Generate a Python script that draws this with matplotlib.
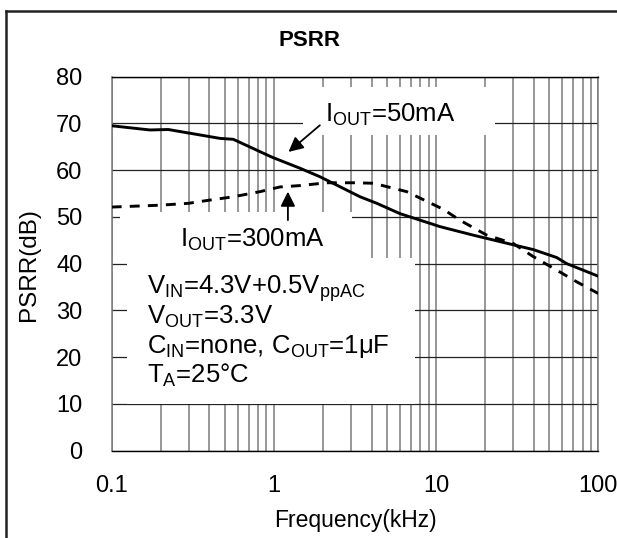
import matplotlib
matplotlib.use("Agg")
import matplotlib.pyplot as plt
from matplotlib.patches import Rectangle
from matplotlib.lines import Line2D

plt.rcParams['font.family'] = ['Liberation Sans', 'DejaVu Sans']
plt.rcParams['mathtext.fontset'] = 'custom'
plt.rcParams['mathtext.rm'] = 'Liberation Sans'
plt.rcParams['mathtext.it'] = 'Liberation Sans:italic'
plt.rcParams['mathtext.bf'] = 'Liberation Sans:bold'

# ---- data ----
freq_50mA = [0.1, 0.172, 0.223, 0.465, 0.562, 0.969, 1.45, 1.92, 3.40, 4.31,
             5.98, 7.96, 10.6, 16.9, 24.8, 39.7, 55.4, 63.8, 100]
psrr_50mA = [69.5, 68.6, 68.7, 66.8, 66.6, 62.8, 60.4, 58.6, 54.3, 52.9,
             50.7, 49.3, 47.9, 46.1, 44.7, 43.0, 41.3, 40.0, 37.3]

freq_300mA = [0.1, 0.199, 0.297, 0.404, 0.562, 0.821, 1.09, 1.45, 2.12, 3.09,
              4.10, 6.59, 11.1, 14.0, 20.5, 29.9, 39.7, 55.4, 73.6, 100]
psrr_300mA = [52.1, 52.5, 52.9, 53.6, 54.3, 55.4, 56.4, 56.7, 57.3, 57.3,
              57.2, 55.4, 51.6, 49.3, 46.1, 44.3, 41.5, 38.6, 36.1, 33.6]

x_ticks = [0.1, 1, 10, 100]
x_ticklabels = ['0.1', '1', '10', '100']
y_ticks = [0, 10, 20, 30, 40, 50, 60, 70, 80]

title = 'PSRR'
xlabel = 'Frequency(kHz)'
ylabel = 'PSRR(dB)'
label_50 = r'I$_\mathregular{OUT}$=50mA'
label_300 = r'I$_\mathregular{OUT}$=300mA'
cond_lines = [r'V$_\mathregular{IN}$=4.3V+0.5V$_\mathregular{ppAC}$',
              r'V$_\mathregular{OUT}$=3.3V',
              r'C$_\mathregular{IN}$=none, C$_\mathregular{OUT}$=1μF',
              r'T$_\mathregular{A}$=25°C']

# ---- figure ----
fig = plt.figure(figsize=(6.17, 5.38), dpi=100)
ax = fig.add_axes([111.7/617, 1-450.5/538, (598.3-111.7)/617, (450.5-76.7)/538])
ax.set_xscale('log')
ax.set_xlim(0.1, 100)
ax.set_ylim(0, 80)

# grid
ax.grid(True, which='both', axis='x', color='#7a7a7a', lw=1.1, zorder=0)
ax.grid(True, which='major', axis='y', color='#222222', lw=0.9, zorder=0)
ax.set_axisbelow(True)

ax.set_xticks(x_ticks)
ax.set_xticklabels(x_ticklabels)
ax.set_yticks(y_ticks)
ax.tick_params(axis='both', which='both', length=0, labelsize=17)
ax.tick_params(axis='y', pad=21)
ax.tick_params(axis='x', pad=18)
for s in ['top', 'bottom']:
    ax.spines[s].set_color('black')
    ax.spines[s].set_linewidth(1.0)
for s in ['left', 'right']:
    ax.spines[s].set_color('#7a7a7a')
    ax.spines[s].set_linewidth(1.1)

# white boxes behind labels (hide grid)
for (x0, y0, w, h) in [(0.393, 0.8436, 0.395, 0.129),
                       (0.017, 0.5147, 0.477, 0.123),
                       (0.0314, 0.1243, 0.592, 0.3904)]:
    ax.add_patch(Rectangle((x0, y0), w, h, transform=ax.transAxes,
                           facecolor='white', edgecolor='none', zorder=1))

# curves
ax.plot(freq_50mA, psrr_50mA, color='black', lw=2.1, zorder=3,
        solid_joinstyle='round')
ax.plot(freq_300mA, psrr_300mA, color='black', lw=2.1, zorder=3,
        dashes=(3.4, 2.8))

# annotations
ax.text(2.07, 70.3, label_50, fontsize=18.5, ha='left', va='baseline', zorder=4)
ax.annotate('', xy=(1.23, 63.9), xytext=(1.92, 69.6),
            arrowprops=dict(arrowstyle='-|>', color='black', lw=1.3,
                            mutation_scale=22, shrinkA=0, shrinkB=0), zorder=4)
ax.text(0.264, 43.7, label_300, fontsize=18.5, ha='left', va='baseline', zorder=4)
ax.annotate('', xy=(1.22, 55.4), xytext=(1.22, 49.3),
            arrowprops=dict(arrowstyle='-|>', color='black', lw=1.3,
                            mutation_scale=22, shrinkA=0, shrinkB=0), zorder=4)
for txt, yb in zip(cond_lines, [33.6, 27.1, 20.8, 14.4]):
    ax.text(0.164, yb, txt, fontsize=18.5, ha='left', va='baseline', zorder=4)

# titles / labels
fig.text(310/617, 1-41/538, title, fontsize=16, fontweight='bold',
         ha='center', va='center')
fig.text(355/617, 1-521/538, xlabel, fontsize=16.5, ha='center', va='center')
fig.text(29/617, 1-265/538, ylabel, fontsize=17.5, ha='center', va='center',
         rotation=90)

# outer frame (top and left edges)
fig.add_artist(Line2D([6/617, 6/617], [-0.05, 1-10.5/538], transform=fig.transFigure,
                      color='#222222', lw=1.8))
fig.add_artist(Line2D([6/617, 1.05], [1-10.5/538, 1-10.5/538], transform=fig.transFigure,
                      color='#222222', lw=1.8))

fig.savefig('out.png', dpi=100)
